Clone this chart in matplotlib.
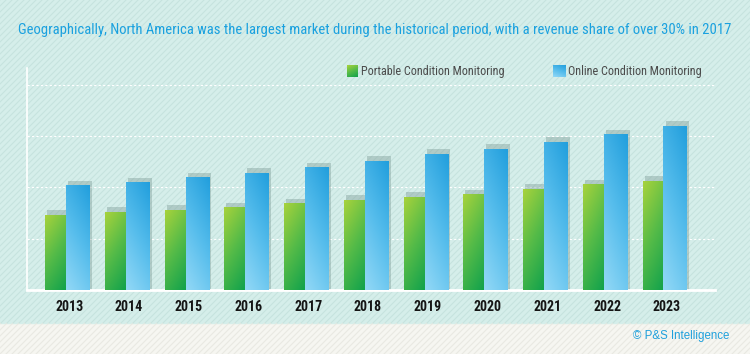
import numpy as np
import matplotlib
matplotlib.use('Agg')
import matplotlib.pyplot as plt
from matplotlib.colors import LinearSegmentedColormap
from matplotlib.patches import Rectangle

# values (gridline step = 100)
years = ['2013', '2014', '2015', '2016', '2017', '2018', '2019', '2020', '2021', '2022', '2023']
portable = [146, 151, 156, 160, 168, 175, 181, 186, 196, 205, 212]
online = [203, 209, 219, 228, 238, 251, 265, 275, 288, 303, 319]
series_names = ['Portable Condition Monitoring', 'Online Condition Monitoring']
title = ('Geographically, North America was the largest market during the historical period, '
         'with a revenue share of over 30% in 2017')

narrow = ['Roboto Condensed', 'Roboto', 'DejaVu Sans']

green_cm = LinearSegmentedColormap.from_list('g', ['#a6d23c', '#55bb48', '#12a24c'])
blue_cm = LinearSegmentedColormap.from_list('b', ['#229fdd', '#56bdec', '#92d8f6'])

n = 40
ii, jj = np.mgrid[0:n, 0:n] / (n - 1.0)
green_grad = (ii * 1.4 + jj * 0.6) / 2.0
blue_grad = (ii * 1.4 + (1 - jj) * 0.6) / 2.0

fig = plt.figure(figsize=(7.5, 3.54), dpi=100)

# background with diagonal stripes, pixel coordinates
bg = fig.add_axes([0, 0, 1, 1])
bg.set_xlim(0, 750)
bg.set_ylim(0, 354)
bg.axis('off')
bg.add_patch(Rectangle((0, 0), 750, 31, color='#f6f6f1', zorder=0))
bg.add_patch(Rectangle((0, 31), 750, 323, color='#d5eeea', zorder=0))
for x0 in np.arange(-360, 760, 6):
    bg.plot([x0, x0 + 31], [0, 31], color='#e9e9e2', lw=0.8, zorder=1)
    bg.plot([x0 + 31, x0 + 354], [31, 354], color='#c6e3de', lw=0.8, zorder=1)

bg.text(375, 324, title, ha='center', va='center', color='#1aa1df',
        fontsize=10.55, family=narrow)
bg.text(729, 18, '\u00a9 P&S Intelligence', ha='right', va='center',
        color='#1ea0dc', fontsize=8.3, family=['Liberation Sans', 'DejaVu Sans'])

# legend
bg.imshow(green_grad, cmap=green_cm, extent=[347, 358, 277, 289], aspect='auto', zorder=3)
bg.text(361, 283, series_names[0], ha='left', va='center', color='#4a4a4a',
        fontsize=8.7, family=narrow)
bg.imshow(blue_grad, cmap=blue_cm, extent=[553, 566, 277, 289], aspect='auto', zorder=3)
bg.text(568, 283, series_names[1], ha='left', va='center', color='#4a4a4a',
        fontsize=8.7, family=narrow)
bg.set_xlim(0, 750)
bg.set_ylim(0, 354)

# chart
ax = fig.add_axes([27 / 750, 64 / 354, 688 / 750, 222 / 354])
ax.set_facecolor('none')
x = np.arange(len(years))

gw, bw = 0.349, 0.399
sh_dx, sh_dy = 0.035, 10
ax.bar(x - 0.374 + sh_dx, np.array(portable) + sh_dy, width=gw, align='edge',
       color='#6f8f8a', alpha=0.36, zorder=1, lw=0)
ax.bar(x - 0.025 + sh_dx, np.array(online) + sh_dy, width=bw, align='edge',
       color='#6f8f8a', alpha=0.36, zorder=1, lw=0)
gbars = ax.bar(x - 0.374, portable, width=gw, align='edge', color='#4cb84a', zorder=2, lw=0)
bbars = ax.bar(x - 0.025, online, width=bw, align='edge', color='#4cb8ea', zorder=2, lw=0)

for bars, grad, cm in [(gbars, green_grad, green_cm), (bbars, blue_grad, blue_cm)]:
    for p in bars:
        x0, w, h = p.get_x(), p.get_width(), p.get_height()
        ax.imshow(grad, cmap=cm, extent=[x0, x0 + w, 0, h], aspect='auto',
                  interpolation='bilinear', zorder=3)

ax.set_xlim(-0.678, 10.837)
ax.set_ylim(0, 433)
ax.set_yticks([100, 200, 300, 400])
ax.yaxis.grid(True, color='white', ls=(0, (2, 2)), lw=0.8)
ax.set_axisbelow(True)
ax.tick_params(axis='y', length=0, labelleft=False)
ax.set_xticks(x + 0.03)
ax.set_xticklabels(years, fontsize=10, fontweight='bold', color='#151515', family=narrow)
ax.tick_params(axis='x', length=0, pad=7)
for s in ['top', 'right']:
    ax.spines[s].set_visible(False)
ax.spines['left'].set_color('white')
ax.spines['left'].set_linewidth(1.2)
ax.spines['bottom'].set_color('white')
ax.spines['bottom'].set_linewidth(2)

fig.savefig('out.png', dpi=100)
